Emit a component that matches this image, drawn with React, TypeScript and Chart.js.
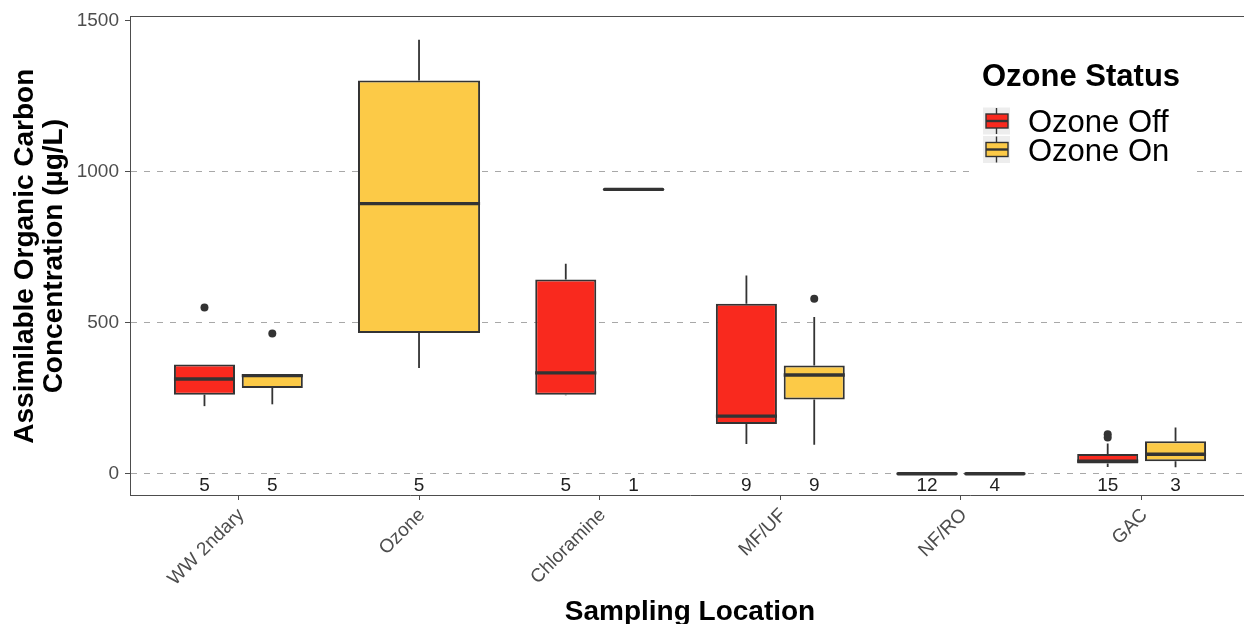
import React, { useEffect, useRef } from 'react';
import { Chart, registerables } from 'chart.js';

Chart.register(...registerables);

// ---------- data ----------
const CATEGORIES = ['WW 2ndary', 'Ozone', 'Chloramine', 'MF/UF', 'NF/RO', 'GAC'];
const SERIES_LABELS = ['Ozone Off', 'Ozone On'];

const OFF_MIN = [224, null, 260, 99, 0, 23];
const OFF_Q1 = [262, null, 262, 165, 0, 34];
const OFF_MED = [314, null, 334, 191, 0.5, 42];
const OFF_Q3 = [362, null, 643, 563, 1, 66];
const OFF_MAX = [362, null, 695, 656, 2, 100];
const OFF_N = [5, null, 5, 9, 12, 15];
const OFF_OUTLIERS = [[550], [], [], [], [], [131, 120]];

const ON_MIN = [230, 350, 941, 96, 0, 22];
const ON_Q1 = [284, 466, 941, 246, 0, 42];
const ON_MED = [325, 894, 941, 327, 0.5, 65];
const ON_Q3 = [329, 1301, 941, 358, 1, 108];
const ON_MAX = [329, 1436, 941, 519, 2, 153];
const ON_N = [5, 5, 1, 9, 4, 3];
const ON_OUTLIERS = [[464], [], [], [579], [], []];

const Y_TICKS = [0, 500, 1000, 1500];
const Y_GRID = [0, 500, 1000];
const Y_MIN = -70;
const Y_MAX = 1510;
const COUNT_LABEL_Y = -57;

// ---------- style ----------
const FONT = '"Liberation Sans", Arial, Helvetica, sans-serif';
const RED = '#F9291E';
const YELLOW = '#FCCA47';
const OUTLINE = '#333333';
const AXIS = '#4D4D4D';
const TICK_TEXT = '#4D4D4D';
const GRID = '#A8A8A8';

export default function App() {
  const ref = useRef<HTMLCanvasElement>(null);

  useEffect(() => {
    const canvas = ref.current;
    if (!canvas) return;

    const series = [
      { label: SERIES_LABELS[0], color: RED, min: OFF_MIN, q1: OFF_Q1, med: OFF_MED, q3: OFF_Q3, max: OFF_MAX, n: OFF_N, out: OFF_OUTLIERS },
      { label: SERIES_LABELS[1], color: YELLOW, min: ON_MIN, q1: ON_Q1, med: ON_MED, q3: ON_Q3, max: ON_MAX, n: ON_N, out: ON_OUTLIERS },
    ];

    const boxPlugin = {
      id: 'boxExtras',
      afterDatasetsDraw(chart: any) {
        const ctx = chart.ctx;
        const y = chart.scales.y;
        series.forEach((s, di) => {
          const meta = chart.getDatasetMeta(di);
          meta.data.forEach((el: any, i: number) => {
            if (s.med[i] == null) return;
            const x = el.x;
            const w = el.width;
            ctx.save();
            ctx.lineCap = 'butt';
            ctx.strokeStyle = OUTLINE;
            ctx.lineWidth = 1.8;
            ctx.beginPath();
            ctx.moveTo(x, y.getPixelForValue(s.q3[i]));
            ctx.lineTo(x, y.getPixelForValue(s.max[i]));
            ctx.moveTo(x, y.getPixelForValue(s.q1[i]));
            ctx.lineTo(x, y.getPixelForValue(s.min[i]));
            ctx.stroke();
            const ym = y.getPixelForValue(s.med[i]);
            const flat = Math.abs(y.getPixelForValue(s.q1[i]) - y.getPixelForValue(s.q3[i])) < 2;
            ctx.lineWidth = 3.4;
            ctx.lineCap = flat ? 'round' : 'butt';
            ctx.beginPath();
            ctx.moveTo(x - w / 2 + (flat ? 1.5 : 0), ym);
            ctx.lineTo(x + w / 2 - (flat ? 1.5 : 0), ym);
            ctx.stroke();
            ctx.fillStyle = OUTLINE;
            s.out[i].forEach((v: number) => {
              ctx.beginPath();
              ctx.arc(x, y.getPixelForValue(v), 4, 0, Math.PI * 2);
              ctx.fill();
            });
            ctx.fillStyle = '#1f1f1f';
            ctx.font = `19px ${FONT}`;
            ctx.textAlign = 'center';
            ctx.textBaseline = 'alphabetic';
            ctx.fillText(String(s.n[i]), x, y.getPixelForValue(COUNT_LABEL_Y));
            ctx.restore();
          });
        });
      },
      afterDraw(chart: any) {
        const ctx = chart.ctx;
        const { left, right, top } = chart.chartArea;
        ctx.save();
        // panel top border
        ctx.strokeStyle = AXIS;
        ctx.lineWidth = 1;
        ctx.beginPath();
        ctx.moveTo(left, Math.round(top) - 0.5);
        ctx.lineTo(right, Math.round(top) - 0.5);
        ctx.stroke();
        // legend
        ctx.fillStyle = '#ffffff';
        ctx.fillRect(975, 50, 216, 128);
        ctx.fillStyle = '#000000';
        ctx.font = `bold 31px ${FONT}`;
        ctx.textAlign = 'left';
        ctx.textBaseline = 'alphabetic';
        ctx.fillText('Ozone Status', 982, 86);
        series.forEach((s, k) => {
          const cy = 121 + 28.5 * k;
          ctx.fillStyle = '#EDEDED';
          ctx.fillRect(983, cy - 13.5, 27, 27);
          ctx.strokeStyle = OUTLINE;
          ctx.lineWidth = 1.4;
          ctx.beginPath();
          ctx.moveTo(996.5, cy - 13);
          ctx.lineTo(996.5, cy + 13);
          ctx.stroke();
          ctx.fillStyle = s.color;
          ctx.fillRect(986, cy - 7, 22, 14);
          ctx.strokeRect(986, cy - 7, 22, 14);
          ctx.lineWidth = 2.4;
          ctx.beginPath();
          ctx.moveTo(986, cy);
          ctx.lineTo(1008, cy);
          ctx.stroke();
          ctx.fillStyle = '#000000';
          ctx.font = `31px ${FONT}`;
          ctx.fillText(s.label, 1028, cy + 11);
        });
        ctx.restore();
      },
    };

    const chart = new Chart(canvas, {
      type: 'bar',
      data: {
        labels: CATEGORIES,
        datasets: series.map((s) => ({
          label: s.label,
          data: s.q1.map((q, i) => (q == null ? null : [q, s.q3[i] as number])) as any,
          backgroundColor: s.color,
          borderColor: OUTLINE,
          borderWidth: 2,
          borderSkipped: false,
          skipNull: true,
          categoryPercentage: 0.751,
          barPercentage: 0.9,
        })),
      },
      options: {
        animation: false,
        responsive: false,
        devicePixelRatio: 1,
        layout: { padding: { left: 0, top: 17, right: 6, bottom: 0 } },
        plugins: { legend: { display: false }, tooltip: { enabled: false } },
        scales: {
          x: {
            offset: true,
            afterBuildTicks: (scale: any) => {
              scale._startValue = -0.6;
              scale._valueRange = CATEGORIES.length - 1 + 1.2;
            },
            afterFit: (scale: any) => {
              scale.height = 129;
            },
            grid: { display: true, drawOnChartArea: false, offset: false, tickLength: 5, tickColor: AXIS, tickWidth: 1 },
            border: { display: true, color: AXIS, width: 1 },
            ticks: {
              autoSkip: false,
              minRotation: 45,
              maxRotation: 45,
              padding: 4,
              labelOffset: 3,
              color: TICK_TEXT,
              font: { family: FONT, size: 19 },
            },
            title: {
              display: true,
              text: 'Sampling Location',
              color: '#000000',
              font: { family: FONT, size: 28, weight: 'bold', lineHeight: 0.86 },
              padding: { top: 0, bottom: 0 },
            },
          },
          y: {
            type: 'linear',
            min: Y_MIN,
            max: Y_MAX,
            afterBuildTicks: (scale: any) => {
              scale.ticks = Y_TICKS.map((v) => ({ value: v }));
            },
            afterFit: (scale: any) => {
              scale.width = 130;
            },
            grid: {
              display: true,
              drawOnChartArea: true,
              color: (c: any) => (c.tick && Y_GRID.includes(c.tick.value) ? GRID : 'rgba(0,0,0,0)'),
              lineWidth: 1,
              tickLength: 5,
              tickColor: AXIS,
              tickWidth: 1,
            },
            border: { display: true, color: AXIS, width: 1, dash: [6, 7] },
            ticks: {
              padding: 6,
              color: TICK_TEXT,
              font: { family: FONT, size: 19 },
              callback: (v: any) => String(v),
            },
            title: {
              display: true,
              text: ['Assimilable Organic Carbon', 'Concentration (µg/L)'],
              color: '#000000',
              font: { family: FONT, size: 28, weight: 'bold', lineHeight: 1.04 },
              padding: { top: 11, bottom: 0 },
            },
          },
        },
      } as any,
      plugins: [boxPlugin],
    });

    return () => chart.destroy();
  }, []);

  return (
    <div style={{ position: 'absolute', left: 0, top: 0, width: 1244, height: 624, overflow: 'hidden', background: '#ffffff' }}>
      <canvas ref={ref} width={1256} height={624} style={{ display: 'block', width: 1256, height: 624 }} />
    </div>
  );
}
